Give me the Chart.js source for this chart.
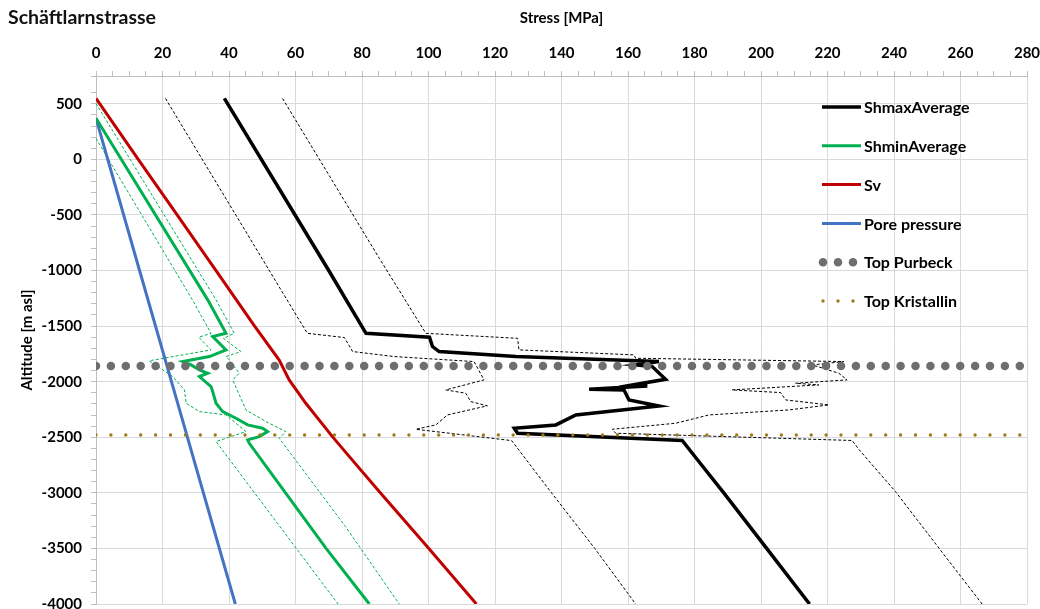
<!DOCTYPE html>
<html>
<head>
<meta charset="utf-8">
<script src="https://cdn.jsdelivr.net/npm/chart.js@4"></script>
<style>
html, body { margin: 0; padding: 0; background: #fff; }
#wrap { position: relative; width: 1040px; height: 609px; }
#title { position: absolute; left: 8px; top: 5px; font: bold 19.5px Lato, sans-serif; color: #111; }
</style>
</head>
<body>
<div id="wrap">
  <canvas id="chart" width="1040" height="609"></canvas>
  <div id="title">Schäftlarnstrasse</div>
</div>
<script>
// stress in MPa, altitude in m asl
var shmaxAlt    = [548, -1000, -1565, -1600, -1684, -1729, -1774, -1819, -1849, -1864, -1978, -2029, -2038, -2068, -2074, -2164, -2218, -2299, -2389, -2419, -2464, -2529, -2718, -3000, -3500, -4000];
var shmaxStress = [38.6, 70.0, 81.2, 100.3, 101.2, 103.2, 126.3, 169.3, 162.3, 167.3, 171.3, 161.3, 165.8, 148.3, 158.8, 160.3, 169.3, 144.3, 138.3, 125.8, 126.8, 176.3, 181.3, 188.8, 201.7, 214.6];

var shmaxLowAlt    = [548, -1445, -1565, -1603, -1729, -1774, -1819, -1984, -2074, -2104, -2179, -2217, -2299, -2389, -2428, -2530, -3000, -3500, -4000];
var shmaxLowStress = [20.9, 61.1, 63.6, 74.7, 77.2, 89.7, 113.7, 116.7, 105.2, 111.2, 112.7, 117.7, 105.7, 102.2, 96.2, 125.0, 137.0, 150.0, 162.3];

var shmaxHighAlt    = [548, -890, -1565, -1610, -1714, -1759, -1789, -1819, -1849, -1924, -1984, -2014, -2029, -2074, -2098, -2164, -2209, -2254, -2299, -2374, -2428, -2464, -2529, -2612, -2987, -3691, -4000];
var shmaxHighStress = [56.1, 85.2, 99.2, 126.8, 127.2, 161.8, 162.3, 224.9, 215.4, 223.4, 225.9, 210.4, 217.4, 191.3, 205.9, 207.4, 220.4, 208.4, 184.4, 174.3, 155.3, 156.3, 227.4, 229.5, 240.4, 258.5, 266.5];

var shminAlt    = [370, -1264, -1565, -1594, -1714, -1774, -1819, -1849, -1894, -1924, -1954, -2044, -2089, -2194, -2269, -2329, -2389, -2419, -2449, -2494, -2524, -2554, -3000, -3500, -4000];
var shminStress = [0, 33.6, 39.1, 35.1, 39.1, 34.1, 26.1, 28.6, 31.1, 33.6, 31.1, 34.6, 35.1, 36.1, 38.1, 42.1, 45.6, 50.1, 51.6, 49.1, 45.6, 46.1, 57.0, 69.2, 82.2];

var shminLowAlt    = [189, -1264, -1565, -1600, -1714, -1812, -1954, -2074, -2194, -2269, -2299, -2449, -2539, -4000];
var shminLowStress = [0, 29.0, 34.6, 30.9, 34.6, 16.0, 23.1, 26.6, 27.1, 31.1, 39.1, 45.1, 36.1, 72.8];

var shminHighAlt    = [503, -1264, -1565, -1610, -1729, -1774, -1804, -1924, -1984, -2254, -2359, -2449, -2509, -3302, -4000];
var shminHighStress = [0, 36.1, 41.6, 38.3, 43.6, 39.1, 40.1, 43.1, 41.1, 45.1, 51.1, 57.1, 55.1, 75.0, 91.2];

var svAlt    = [548, 0, -500, -1000, -1500, -1805, -1984, -2194, -2494, -2674, -3000, -3500, -4000];
var svStress = [0, 12.7, 24.4, 36.1, 47.7, 55.1, 58.1, 63.1, 71.1, 76.2, 85.5, 100.1, 114.4];

var poreAlt    = [369, -1000, -2000, -3000, -4000];
var poreStress = [0, 13.1, 22.7, 32.3, 41.9];

var horizonStress = [0, 280];
var purbeckAlt    = [-1858, -1858];
var kristallinAlt = [-2480, -2480];

function pts(stress, alt) {
	return stress.map(function(s, i) { return { x: s, y: alt[i] }; });
}

var font = "Lato, sans-serif";

var datasets = [
	{ label: "ShmaxAverage", data: pts(shmaxStress, shmaxAlt), borderColor: "#000000", borderWidth: 3.5, inLegend: true, order: 1 },
	{ label: "ShminAverage", data: pts(shminStress, shminAlt), borderColor: "#00B050", borderWidth: 3, inLegend: true, order: 1 },
	{ label: "Sv", data: pts(svStress, svAlt), borderColor: "#C00000", borderWidth: 3, inLegend: true, order: 1 },
	{ label: "Pore pressure", data: pts(poreStress, poreAlt), borderColor: "#4472C4", borderWidth: 3, inLegend: true, order: 1 },
	{ label: "Top Purbeck", data: pts(horizonStress, purbeckAlt), borderColor: "#6E6E6E", borderWidth: 8.5, borderDash: [0, 14.9], borderCapStyle: "round", inLegend: true, dots: true, order: -2 },
	{ label: "Top Kristallin", data: pts(horizonStress, kristallinAlt), borderColor: "#A07A12", borderWidth: 3.4, borderDash: [0, 14.9], borderCapStyle: "round", inLegend: true, dots: true, order: -1 },
	{ label: "Shmax low", data: pts(shmaxLowStress, shmaxLowAlt), borderColor: "#000000", borderWidth: 1, borderDash: [3, 2], order: 2 },
	{ label: "Shmax high", data: pts(shmaxHighStress, shmaxHighAlt), borderColor: "#000000", borderWidth: 1, borderDash: [3, 2], order: 2 },
	{ label: "Shmin low", data: pts(shminLowStress, shminLowAlt), borderColor: "#00B050", borderWidth: 1, borderDash: [3, 2], order: 2 },
	{ label: "Shmin high", data: pts(shminHighStress, shminHighAlt), borderColor: "#00B050", borderWidth: 1, borderDash: [3, 2], order: 2 }
];

datasets.forEach(function(d) {
	d.showLine = true;
	d.pointRadius = 0;
	d.pointHoverRadius = 0;
	d.fill = false;
	d.tension = 0;
});

// legend drawn inside the plot, on the right
var sideLegend = {
	id: "sideLegend",
	afterDraw: function(chart) {
		var ctx = chart.ctx;
		var items = chart.data.datasets.filter(function(d) { return d.inLegend; });
		ctx.save();
		items.forEach(function(d, i) {
			var y = 107 + i * 38.8;
			if (d.dots) {
				ctx.fillStyle = d.borderColor;
				[823, 838, 853].forEach(function(x) {
					ctx.beginPath();
					ctx.arc(x, y, d.borderWidth / 2, 0, Math.PI * 2);
					ctx.fill();
				});
			} else {
				ctx.strokeStyle = d.borderColor;
				ctx.lineWidth = d.borderWidth;
				ctx.beginPath();
				ctx.moveTo(822, y);
				ctx.lineTo(861, y);
				ctx.stroke();
			}
			ctx.fillStyle = "#000";
			ctx.font = "bold 16px " + font;
			ctx.textBaseline = "middle";
			ctx.textAlign = "left";
			ctx.fillText(d.label, 864, y + 1);
		});
		ctx.restore();
	}
};

var ctx = document.getElementById("chart");

var options = {
	responsive: false,
	animation: false,
	devicePixelRatio: 1,
	layout: { padding: { left: 0, right: 13, top: 0, bottom: 5 } },
	plugins: {
		legend: { display: false },
		tooltip: { enabled: false }
	},
	scales: {
		x: {
			type: "linear",
			position: "top",
			min: 0,
			max: 280,
			afterFit: function(s) { s.height = 76; s.paddingLeft = 0; s.paddingRight = 0; },
			ticks: {
				stepSize: 5,
				autoSkip: false,
				maxRotation: 0,
				maxTicksLimit: 100,
				padding: 9,
				color: "#000",
				font: { family: font, size: 15, weight: "bold" },
				callback: function(v) { return v % 20 === 0 ? String(v) : ""; }
			},
			grid: {
				color: function(c) { return c.tick && c.tick.value % 20 === 0 ? "#D9D9D9" : "rgba(0,0,0,0)"; },
				tickColor: "#BFBFBF",
				tickLength: 5
			},
			border: { color: "#BFBFBF" },
			title: {
				display: true,
				text: "Stress [MPa]",
				color: "#000",
				font: { family: font, size: 15, weight: "bold" },
				padding: { top: 9, bottom: 0 }
			}
		},
		y: {
			type: "linear",
			min: -4000,
			max: 750,
			afterFit: function(s) { s.width = 96; s.paddingTop = 0; s.paddingBottom = 0; },
			ticks: {
				stepSize: 100,
				autoSkip: false,
				maxTicksLimit: 100,
				padding: 9,
				color: "#000",
				font: { family: font, size: 15, weight: "bold" },
				callback: function(v) { return v % 500 === 0 ? String(v) : ""; }
			},
			grid: {
				color: function(c) { return c.tick && c.tick.value % 500 === 0 ? "#D9D9D9" : "rgba(0,0,0,0)"; },
				tickColor: "#BFBFBF",
				tickLength: 5
			},
			border: { color: "#BFBFBF" },
			title: {
				display: true,
				text: "Altitude [m asl]",
				color: "#000",
				font: { family: font, size: 15, weight: "bold" },
				padding: { top: 18, bottom: 0 }
			}
		}
	}
};

var chart = new Chart(ctx, {
	type: "scatter",
	data: { datasets: datasets },
	options: options,
	plugins: [sideLegend]
});
</script>
</body>
</html>
